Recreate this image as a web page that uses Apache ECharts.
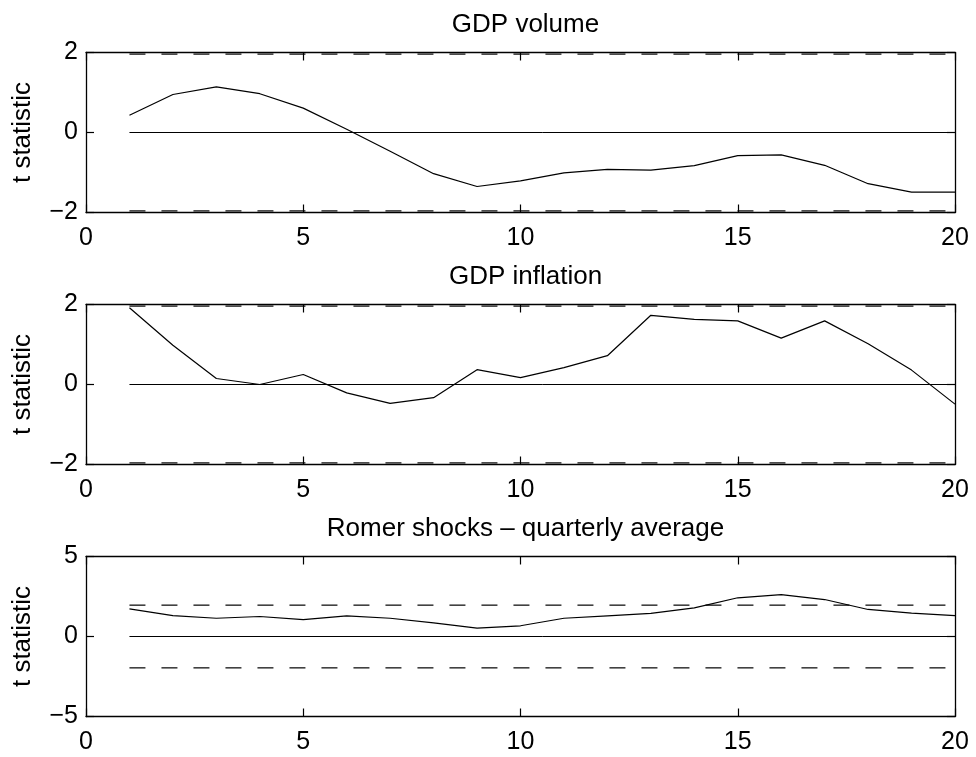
<!DOCTYPE html>
<html>
<head>
<meta charset="utf-8">
<title>t statistics by horizon</title>
<script src="https://cdn.jsdelivr.net/npm/echarts@6/dist/echarts.min.js"></script>
<style>
  html, body { margin: 0; padding: 0; background: #fff; }
  #chart { width: 976px; height: 757px; }
</style>
</head>
<body>
<div id="chart"></div>
<script>
// Horizon (quarters)
const horizon = [1, 2, 3, 4, 5, 6, 7, 8, 9, 10, 11, 12, 13, 14, 15, 16, 17, 18, 19, 20];

// t statistics per panel
const gdpVolume = [0.43, 0.95, 1.14, 0.97, 0.61, 0.08, -0.47, -1.03, -1.35, -1.21,
                   -1.01, -0.92, -0.94, -0.83, -0.58, -0.56, -0.82, -1.28, -1.49, -1.49];
const gdpInflation = [1.92, 0.98, 0.15, 0.0, 0.25, -0.21, -0.47, -0.33, 0.37, 0.17,
                      0.42, 0.72, 1.73, 1.63, 1.59, 1.16, 1.59, 1.02, 0.36, -0.49];
const romerShocks = [1.73, 1.31, 1.14, 1.25, 1.06, 1.29, 1.14, 0.85, 0.52, 0.67,
                     1.14, 1.29, 1.44, 1.79, 2.42, 2.62, 2.31, 1.69, 1.46, 1.31];

// Panel titles and y-axis ranges
const panelTitles = ['GDP volume', 'GDP inflation', 'Romer shocks \u2013 quarterly average'];
const yRanges = [[-2, 2, 2], [-2, 2, 2], [-5, 5, 5]];
const xRange = [0, 20, 5];

// Critical value for the significance bands
const critical = 1.96;

const panels = [gdpVolume, gdpInflation, romerShocks];

const FONT = 'Liberation Sans, Arial, Helvetica, sans-serif';
const gridLeft = 86, gridWidth = 869;
// half-pixel offsets keep the horizontal reference lines crisp
const gridTops = [52.5, 304.5, 556.5];
const gridHeight = 160;
const minusFmt = v => String(v).replace('-', '\u2212');

const frameLine = { show: true, onZero: false, lineStyle: { color: '#000', width: 1.3 } };
const innerTick = { show: true, inside: true, length: 8, lineStyle: { color: '#000', width: 1.2 } };

const grids = [], xAxes = [], yAxes = [], series = [], titles = [];

panels.forEach((values, i) => {
  grids.push({ left: gridLeft, width: gridWidth, top: gridTops[i], height: gridHeight });

  titles.push({
    text: panelTitles[i], left: gridLeft + gridWidth / 2, textAlign: 'center', top: Math.round(gridTops[i]) - 46,
    textStyle: { fontFamily: FONT, fontSize: 26, fontWeight: 'normal', color: '#000' }
  });

  const xBase = { type: 'value', gridIndex: i, min: xRange[0], max: xRange[1], interval: xRange[2],
                  splitLine: { show: false }, axisLine: frameLine, axisTick: innerTick };
  xAxes.push(Object.assign({}, xBase, {
    position: 'bottom',
    axisLabel: { fontFamily: FONT, fontSize: 25, color: '#000', margin: 13 }
  }));
  xAxes.push(Object.assign({}, xBase, { position: 'top', axisLabel: { show: false } }));

  const [ymin, ymax, yint] = yRanges[i];
  const yBase = { type: 'value', gridIndex: i, min: ymin, max: ymax, interval: yint,
                  splitLine: { show: false }, axisLine: frameLine, axisTick: innerTick };
  yAxes.push(Object.assign({}, yBase, {
    position: 'left',
    name: 't statistic', nameLocation: 'middle', nameGap: 50, nameRotate: 90,
    nameTextStyle: { fontFamily: FONT, fontSize: 26, color: '#000' },
    axisLabel: { fontFamily: FONT, fontSize: 25, color: '#000', margin: 8, formatter: minusFmt }
  }));
  yAxes.push(Object.assign({}, yBase, { position: 'right', axisLabel: { show: false } }));

  const xi = i * 2, yi = i * 2;
  const first = horizon[0], last = horizon[horizon.length - 1];
  const lineCommon = { type: 'line', xAxisIndex: xi, yAxisIndex: yi, symbol: 'none',
                       silent: true, animation: false };

  series.push(Object.assign({}, lineCommon, {
    data: [[first, critical], [last, critical]],
    lineStyle: { color: '#000', width: 1.2, type: [16, 16] }
  }));
  series.push(Object.assign({}, lineCommon, {
    data: [[first, -critical], [last, -critical]],
    lineStyle: { color: '#000', width: 1.2, type: [16, 16] }
  }));
  series.push(Object.assign({}, lineCommon, {
    data: [[first, 0], [last, 0]],
    lineStyle: { color: '#000', width: 1 }
  }));
  series.push(Object.assign({}, lineCommon, {
    data: horizon.map((h, k) => [h, values[k]]),
    lineStyle: { color: '#000', width: 1.2 }
  }));
});

const chart = echarts.init(document.getElementById('chart'), null, { renderer: 'canvas' });
chart.setOption({
  backgroundColor: '#fff',
  animation: false,
  title: titles,
  grid: grids,
  xAxis: xAxes,
  yAxis: yAxes,
  series: series
});
</script>
</body>
</html>
